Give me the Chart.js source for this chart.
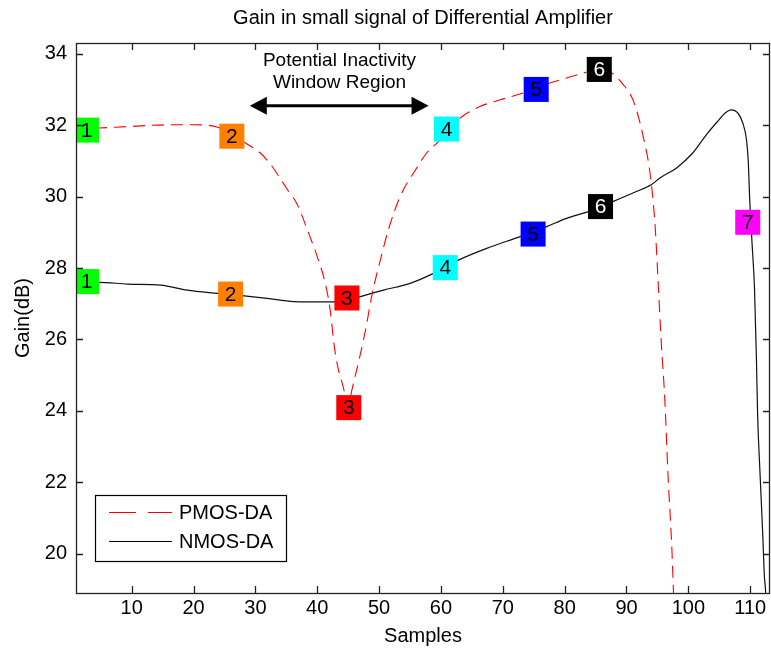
<!DOCTYPE html>
<html>
<head>
<meta charset="utf-8">
<script src="https://cdn.jsdelivr.net/npm/chart.js@4.4.0/dist/chart.umd.min.js"></script>
<style>
  body { margin: 0; background: #fff; }
  canvas { display: block; }
</style>
</head>
<body>
<canvas id="gainChart" width="771" height="650"></canvas>
<script>
// gain curves, sample index vs dB
const pmosX = [1, 4.7, 9.4, 16.3, 20.1, 23.9, 26.2, 28.4, 30.8, 32.5, 35.2, 36.8, 38.4, 40.0, 41.3, 42.1, 42.7, 43.2, 44.2, 45.0, 45.6, 47.0, 47.8, 48.9, 50.2, 51.5, 53.4, 55.9, 57.7, 59.6, 60.9, 63.1, 66.3, 69.6, 73.3, 75.4, 77.6, 80.3, 83.5, 85.6, 87.6, 89.5, 90.8, 91.6, 92.7, 93.8, 94.6, 95.1, 95.6, 96.2, 96.7, 97.3, 97.6, 98.0];
const pmosGain = [31.9, 31.92, 31.96, 32.01, 32.01, 31.94, 31.72, 31.5, 31.22, 30.89, 30.19, 29.77, 29.07, 28.32, 27.57, 26.82, 25.89, 25.33, 24.67, 24.14, 24.58, 25.61, 26.26, 27.29, 28.22, 29.07, 30.0, 30.75, 31.22, 31.54, 31.8, 32.2, 32.52, 32.71, 32.9, 33.04, 33.18, 33.32, 33.48, 33.55, 33.46, 33.13, 32.8, 32.43, 31.68, 30.66, 29.25, 27.66, 25.98, 24.3, 22.24, 20.28, 18.9, 17.0];

const nmosX = [1, 4.7, 9.4, 14.7, 19.0, 23.9, 28.2, 31.9, 36.2, 41.6, 44.8, 47.0, 50.7, 55.0, 58.8, 62.8, 67.4, 72.8, 77.1, 80.3, 83.8, 87.8, 91.6, 94.0, 95.4, 98.1, 100.7, 102.9, 104.5, 106.1, 106.9, 108.0, 108.8, 109.4, 109.7, 109.9, 110.3, 110.7, 111.0, 111.2, 111.6, 112.0, 112.3, 112.5, 112.7];
const nmosGain = [27.6, 27.6, 27.55, 27.52, 27.38, 27.29, 27.22, 27.15, 27.06, 27.05, 27.08, 27.2, 27.38, 27.57, 27.85, 28.22, 28.55, 28.88, 29.16, 29.39, 29.58, 29.86, 30.14, 30.33, 30.52, 30.8, 31.22, 31.73, 32.06, 32.36, 32.43, 32.34, 32.06, 31.59, 30.94, 30.0, 28.69, 27.4, 25.5, 23.9, 22.2, 20.65, 19.34, 18.9, 17.5];

// numbered region tags placed along each curve
const pmosTagX = [2.7, 26.2, 45.1, 60.9, 75.4, 85.6];
const pmosTagY = [31.86, 31.69, 24.09, 31.89, 33.0, 33.56];
const nmosTagX = [2.7, 26.0, 44.8, 60.7, 74.9, 85.8, 109.6];
const nmosTagY = [27.62, 27.27, 27.16, 28.01, 28.95, 29.72, 29.28];
const tagColors = ['#00ff00', '#ff8000', '#ff0000', '#00ffff', '#0000ff', '#000000', '#ff00ff'];
const tagTextColors = ['#000', '#000', '#000', '#000', '#000', '#fff', '#000'];

const xTicks = [10, 20, 30, 40, 50, 60, 70, 80, 90, 100, 110];
const yTicks = [20, 22, 24, 26, 28, 30, 32, 34];

// "inactivity window" arrow and its caption
const windowX = [29.1, 58.0];
const windowY = 32.54;
const windowCaption = ['Potential Inactivity', 'Window Region'];
const captionX = 43.6;
const captionY = 33.49;

const FONT = 'Liberation Sans, Arial, Helvetica, sans-serif';

function toPoints(xs, ys) {
  return xs.map((x, i) => ({ x: x, y: ys[i] }));
}

// inward ticks on all four sides plus the axes box
const boxPlugin = {
  id: 'box',
  afterDraw(chart) {
    const ctx = chart.ctx;
    const a = chart.chartArea;
    const sx = chart.scales.x, sy = chart.scales.y;
    ctx.save();
    ctx.strokeStyle = '#222';
    ctx.lineWidth = 1.3;
    ctx.beginPath();
    xTicks.forEach(v => {
      const px = Math.round(sx.getPixelForValue(v)) + 0.5;
      ctx.moveTo(px, a.bottom); ctx.lineTo(px, a.bottom - 7);
      ctx.moveTo(px, a.top); ctx.lineTo(px, a.top + 7);
    });
    yTicks.forEach(v => {
      const py = Math.round(sy.getPixelForValue(v)) + 0.5;
      ctx.moveTo(a.left, py); ctx.lineTo(a.left + 7, py);
      ctx.moveTo(a.right, py); ctx.lineTo(a.right - 7, py);
    });
    ctx.stroke();
    ctx.strokeRect(a.left + 0.5, a.top + 0.5, a.right - a.left - 1, a.bottom - a.top);
    ctx.restore();
  }
};

// number inside each tag box
const tagLabels = {
  id: 'tagLabels',
  afterDatasetsDraw(chart) {
    const ctx = chart.ctx;
    ctx.save();
    ctx.font = '21px ' + FONT;
    ctx.textAlign = 'center';
    ctx.textBaseline = 'middle';
    [0, 1].forEach(di => {
      const meta = chart.getDatasetMeta(di);
      meta.data.forEach((pt, i) => {
        ctx.fillStyle = tagTextColors[i];
        ctx.fillText(String(i + 1), pt.x, pt.y + 1);
      });
    });
    ctx.restore();
  }
};

// double arrow, caption and legend box
const annotations = {
  id: 'annotations',
  afterDraw(chart) {
    const ctx = chart.ctx;
    const sx = chart.scales.x, sy = chart.scales.y;
    ctx.save();

    const x0 = sx.getPixelForValue(windowX[0]);
    const x1 = sx.getPixelForValue(windowX[1]);
    const ay = sy.getPixelForValue(windowY);
    ctx.strokeStyle = '#000';
    ctx.fillStyle = '#000';
    ctx.lineWidth = 3;
    ctx.beginPath();
    ctx.moveTo(x0 + 10, ay); ctx.lineTo(x1 - 10, ay);
    ctx.stroke();
    ctx.beginPath();
    ctx.moveTo(x0, ay); ctx.lineTo(x0 + 17, ay - 9); ctx.lineTo(x0 + 17, ay + 9); ctx.closePath();
    ctx.moveTo(x1, ay); ctx.lineTo(x1 - 17, ay - 9); ctx.lineTo(x1 - 17, ay + 9); ctx.closePath();
    ctx.fill();

    ctx.font = '19px ' + FONT;
    ctx.textAlign = 'center';
    ctx.textBaseline = 'middle';
    const cx = sx.getPixelForValue(captionX);
    const cy = sy.getPixelForValue(captionY);
    ctx.fillText(windowCaption[0], cx, cy - 11);
    ctx.fillText(windowCaption[1], cx, cy + 11);

    // legend
    ctx.fillStyle = '#fff';
    ctx.fillRect(95.5, 495.5, 191, 66);
    ctx.strokeStyle = '#000';
    ctx.lineWidth = 1.2;
    ctx.strokeRect(95.5, 495.5, 191, 66);
    ctx.strokeStyle = '#ff0000';
    ctx.setLineDash([27, 12]);
    ctx.beginPath(); ctx.moveTo(109, 512.5); ctx.lineTo(172, 512.5); ctx.stroke();
    ctx.setLineDash([]);
    ctx.strokeStyle = '#000';
    ctx.beginPath(); ctx.moveTo(109, 541.5); ctx.lineTo(172, 541.5); ctx.stroke();
    ctx.fillStyle = '#000';
    ctx.font = '20px ' + FONT;
    ctx.textAlign = 'left';
    ctx.fillText('PMOS-DA', 179, 513);
    ctx.fillText('NMOS-DA', 179, 542);
    ctx.restore();
  }
};

new Chart(document.getElementById('gainChart'), {
  type: 'line',
  data: {
    datasets: [
      {
        label: 'PMOS tags',
        data: toPoints(pmosTagX, pmosTagY),
        showLine: false,
        pointStyle: 'rect',
        pointRadius: 17.7,
        pointBorderWidth: 0,
        pointBackgroundColor: tagColors.slice(0, pmosTagX.length),
        order: 0
      },
      {
        label: 'NMOS tags',
        data: toPoints(nmosTagX, nmosTagY),
        showLine: false,
        pointStyle: 'rect',
        pointRadius: 17.7,
        pointBorderWidth: 0,
        pointBackgroundColor: tagColors,
        order: 0
      },
      {
        label: 'PMOS-DA',
        data: toPoints(pmosX, pmosGain),
        borderColor: '#ff0000',
        borderWidth: 1.1,
        borderDash: [12, 7],
        pointRadius: 0,
        cubicInterpolationMode: 'monotone',
        order: 1
      },
      {
        label: 'NMOS-DA',
        data: toPoints(nmosX, nmosGain),
        borderColor: '#111',
        borderWidth: 1.2,
        pointRadius: 0,
        cubicInterpolationMode: 'monotone',
        order: 1
      }
    ]
  },
  options: {
    responsive: false,
    animation: false,
    events: [],
    layout: { autoPadding: false, padding: { top: 0, right: 1, bottom: 0, left: 0 } },
    plugins: {
      legend: { display: false },
      tooltip: { enabled: false },
      title: {
        display: true,
        text: 'Gain in small signal of Differential Amplifier',
        color: '#000',
        font: { family: FONT, size: 20, weight: 'normal' },
        padding: { top: 6, bottom: 13 },
        fullSize: false
      }
    },
    scales: {
      x: {
        type: 'linear',
        min: 1,
        max: 113.2,
        grid: { display: false, drawTicks: false },
        border: { display: false },
        ticks: { color: '#000', font: { family: FONT, size: 20 }, padding: 3, maxRotation: 0 },
        afterBuildTicks: s => { s.ticks = xTicks.map(v => ({ value: v })); },
        afterFit: s => { s.height = 57; },
        title: { display: true, text: 'Samples', color: '#000', font: { family: FONT, size: 20 }, padding: { top: 0, bottom: 2 } }
      },
      y: {
        type: 'linear',
        min: 18.9,
        max: 34.3,
        grid: { display: false, drawTicks: false },
        border: { display: false },
        ticks: { color: '#000', font: { family: FONT, size: 20 }, padding: 9 },
        afterBuildTicks: s => { s.ticks = yTicks.map(v => ({ value: v })); },
        afterFit: s => { s.width = 76; },
        title: { display: true, text: 'Gain(dB)', color: '#000', font: { family: FONT, size: 20 }, padding: { top: 11, bottom: 0 } }
      }
    }
  },
  plugins: [boxPlugin, tagLabels, annotations]
});
</script>
</body>
</html>
